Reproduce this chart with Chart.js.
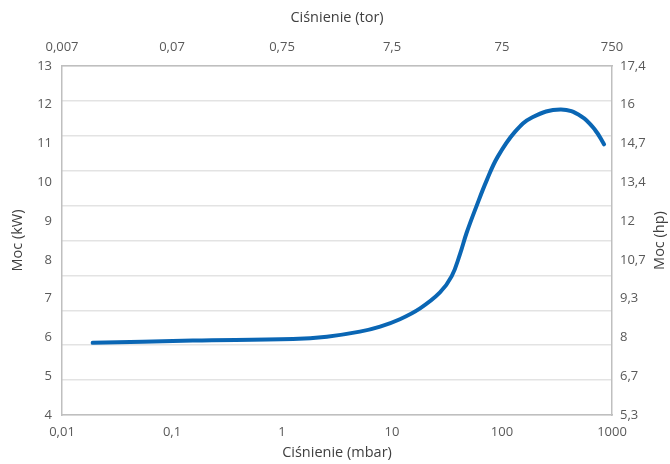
<!DOCTYPE html>
<html>
<head>
<meta charset="utf-8">
<script src="https://cdn.jsdelivr.net/npm/chart.js@4"></script>
<style>
  html, body { margin: 0; padding: 0; background: #fff; }
  #wrap { width: 670px; height: 464px; }
</style>
</head>
<body>
<div id="wrap"><canvas id="chart"></canvas></div>
<script>
// ticks of the bottom (mbar) axis and the matching tor labels on top
const mbarTicks = [0.01, 0.1, 1, 10, 100, 1000];
const mbarLabels = ['0,01', '0,1', '1', '10', '100', '1000'];
const torLabels = ['0,007', '0,07', '0,75', '7,5', '75', '750'];

// left axis in kW, right axis labelled in hp
const kwTicks = [4, 5, 6, 7, 8, 9, 10, 11, 12, 13];
const hpLabels = ['5,3', '6,7', '8', '9,3', '10,7', '12', '13,4', '14,7', '16', '17,4'];

// the curve
const pressure = [0.019, 0.155, 1.26, 2.56, 5.1, 7.8, 11.8, 18, 27.3, 34.9, 41.5, 47.7, 58.9, 72.6, 91, 131, 189, 340, 527, 706, 847];
const power = [5.86, 5.92, 5.96, 6.02, 6.15, 6.28, 6.47, 6.75, 7.16, 7.58, 8.15, 8.7, 9.4, 10.05, 10.65, 11.3, 11.68, 11.88, 11.7, 11.34, 10.98];

const font = 'Open Sans';
const tickColor = '#595959';
const titleColor = '#404040';
const borderColor = '#bfbfbf';

function decadeTicks(axis) {
    axis.ticks = mbarTicks.map(v => ({ value: v }));
}
function kwTickList(axis) {
    axis.ticks = kwTicks.map(v => ({ value: v }));
}

// right-hand title reads bottom to top, like the left one
const rightTitle = {
    id: 'rightTitle',
    afterDraw(chart) {
        const c = chart.ctx;
        const area = chart.chartArea;
        c.save();
        c.translate(660, (area.top + area.bottom) / 2);
        c.rotate(-Math.PI / 2);
        c.fillStyle = titleColor;
        c.font = '14.5px "' + font + '"';
        c.textAlign = 'center';
        c.textBaseline = 'middle';
        c.fillText('Moc (hp)', 0, 0);
        c.restore();
    }
};

const ctx = document.getElementById('chart').getContext('2d');
new Chart(ctx, {
    type: 'line',
    data: {
        datasets: [{
            data: pressure.map((p, i) => ({ x: p, y: power[i] })),
            borderColor: '#0a66b4',
            borderWidth: 4,
            borderCapStyle: 'round',
            pointRadius: 0,
            tension: 0.4,
            fill: false,
            xAxisID: 'x',
            yAxisID: 'y'
        }]
    },
    plugins: [rightTitle],
    options: {
        responsive: true,
        maintainAspectRatio: false,
        animation: false,
        layout: { padding: 0 },
        plugins: { legend: { display: false }, tooltip: { enabled: false } },
        scales: {
            x: {
                type: 'logarithmic',
                position: 'bottom',
                min: 0.01,
                max: 1000,
                afterBuildTicks: decadeTicks,
                afterFit: (s) => { s.height = 49; },
                grid: { display: false, drawTicks: false },
                border: { color: borderColor, width: 1.5 },
                ticks: {
                    color: tickColor,
                    font: { family: font, size: 13 },
                    padding: 9,
                    maxRotation: 0,
                    callback: (v) => mbarLabels[mbarTicks.indexOf(v)]
                },
                title: {
                    display: true, text: 'Ciśnienie (mbar)', color: titleColor,
                    font: { family: font, size: 14.5 }, padding: { top: 0, bottom: 2 }
                }
            },
            xTop: {
                type: 'logarithmic',
                position: 'top',
                min: 0.01,
                max: 1000,
                afterBuildTicks: decadeTicks,
                afterFit: (s) => { s.height = 66; },
                grid: { display: false, drawTicks: false },
                border: { color: borderColor, width: 1.5 },
                ticks: {
                    color: tickColor,
                    font: { family: font, size: 13 },
                    padding: 11,
                    maxRotation: 0,
                    callback: (v) => torLabels[mbarTicks.indexOf(v)]
                },
                title: {
                    display: true, text: 'Ciśnienie (tor)', color: titleColor,
                    font: { family: font, size: 14.5 }, padding: { top: 9, bottom: 0 }
                }
            },
            y: {
                position: 'left',
                min: 4,
                max: 13,
                afterBuildTicks: kwTickList,
                afterFit: (s) => { s.width = 62; },
                grid: { display: false, drawTicks: false },
                border: { color: borderColor, width: 1.5 },
                ticks: { color: tickColor, font: { family: font, size: 13 }, padding: 10 },
                title: {
                    display: true, text: 'Moc (kW)', color: titleColor,
                    font: { family: font, size: 14.5 }, padding: { top: 9, bottom: 0 }
                }
            },
            y2: {
                position: 'right',
                min: 4,
                max: 13,
                afterBuildTicks: kwTickList,
                afterFit: (s) => { s.width = 58; },
                grid: { display: false, drawTicks: false },
                border: { color: borderColor, width: 1.5 },
                ticks: {
                    color: tickColor, font: { family: font, size: 13 }, padding: 8,
                    callback: (v) => hpLabels[kwTicks.indexOf(v)]
                }
            },
            // horizontal gridlines of the original run on their own 10-step spacing
            gridY: {
                position: 'left',
                min: 0,
                max: 10,
                afterFit: (s) => { s.width = 0; },
                ticks: { display: false, stepSize: 1 },
                grid: { color: '#e3e3e3', lineWidth: 1.5, drawTicks: false },
                border: { display: false }
            }
        }
    }
});
</script>
</body>
</html>
